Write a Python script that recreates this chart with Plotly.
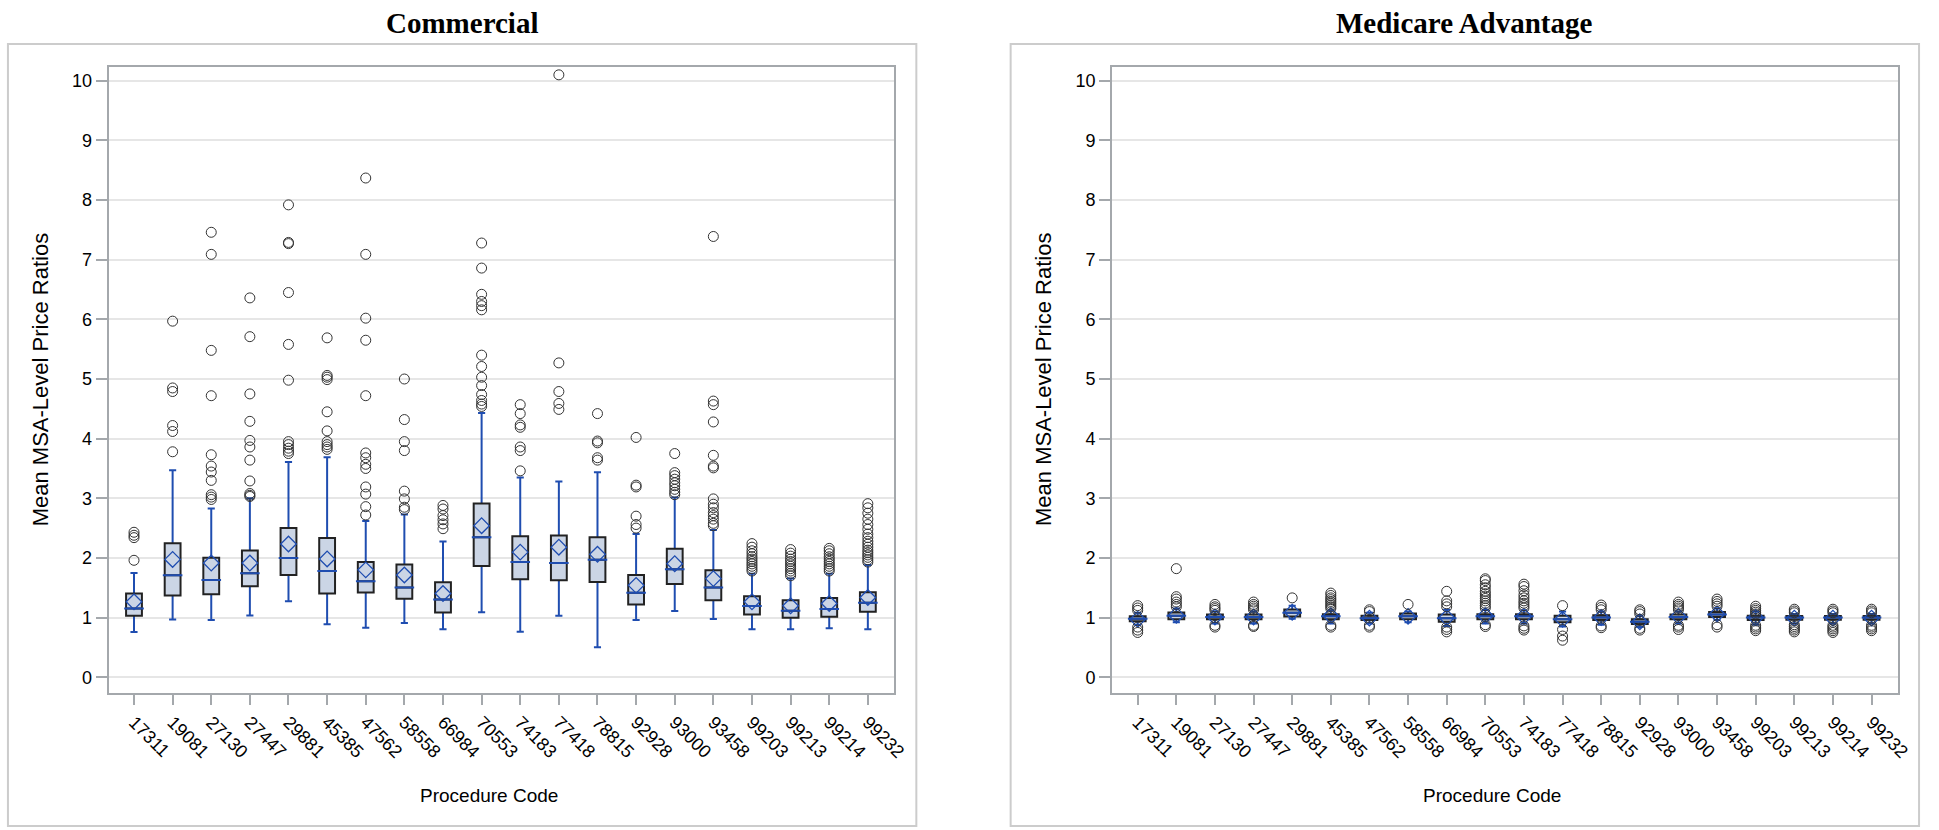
import plotly.graph_objects as go

# ---------------- data ----------------
codes = ["17311", "19081", "27130", "27447", "29881", "45385", "47562", "58558", "66984", "70553",
         "74183", "77418", "78815", "92928", "93000", "93458", "99203", "99213", "99214", "99232"]

# Commercial
com_q1 = [1.03, 1.37, 1.39, 1.525, 1.714, 1.403, 1.42, 1.314, 1.086, 1.864,
          1.642, 1.625, 1.597, 1.22, 1.564, 1.292, 1.053, 0.997, 1.014, 1.097]
com_med = [1.153, 1.708, 1.63, 1.742, 2.0, 1.78, 1.608, 1.503, 1.303, 2.347,
           1.93, 1.914, 1.97, 1.414, 1.81, 1.503, 1.192, 1.114, 1.142, 1.247]
com_q3 = [1.403, 2.247, 2.003, 2.125, 2.5, 2.333, 1.93, 1.89, 1.592, 2.914,
          2.364, 2.375, 2.347, 1.714, 2.153, 1.792, 1.358, 1.292, 1.33, 1.425]
com_lo = [0.758, 0.969, 0.958, 1.036, 1.275, 0.886, 0.83, 0.908, 0.803, 1.09,
          0.764, 1.03, 0.503, 0.958, 1.108, 0.975, 0.803, 0.803, 0.82, 0.803]
com_hi = [1.747, 3.47, 2.83, 3.0, 3.61, 3.69, 2.62, 2.73, 2.275, 4.43,
          3.35, 3.28, 3.436, 2.403, 3.014, 2.47, 1.736, 1.653, 1.736, 1.88]
com_mean = [1.264, 1.975, 1.914, 1.914, 2.233, 1.983, 1.80, 1.714, 1.403, 2.54,
            2.097, 2.18, 2.06, 1.54, 1.903, 1.653, 1.264, 1.197, 1.236, 1.336]
com_out = [
    [1.96, 2.34, 2.38, 2.43],
    [3.78, 4.12, 4.22, 4.79, 4.85, 5.97],
    [2.98, 3.02, 3.06, 3.30, 3.44, 3.54, 3.73, 4.72, 5.48, 7.09, 7.46],
    [3.03, 3.05, 3.08, 3.29, 3.64, 3.86, 3.97, 4.29, 4.75, 5.71, 6.36],
    [3.75, 3.79, 3.84, 3.90, 3.95, 4.98, 5.58, 6.45, 7.27, 7.29, 7.92],
    [3.82, 3.86, 3.90, 3.95, 4.13, 4.45, 4.99, 5.03, 5.06, 5.69],
    [2.72, 2.86, 3.07, 3.19, 3.50, 3.57, 3.68, 3.76, 4.72, 5.65, 6.02, 7.09, 8.37],
    [2.81, 2.85, 2.99, 3.12, 3.80, 3.95, 4.32, 5.00],
    [2.49, 2.57, 2.64, 2.71, 2.82, 2.88],
    [4.54, 4.58, 4.64, 4.74, 4.89, 5.03, 5.21, 5.40, 6.16, 6.23, 6.30, 6.42, 6.86, 7.28],
    [3.46, 3.80, 3.86, 4.19, 4.23, 4.42, 4.57],
    [4.49, 4.59, 4.79, 5.27, 10.10],
    [3.64, 3.68, 3.93, 3.96, 4.42],
    [2.50, 2.56, 2.70, 3.19, 3.22, 4.02],
    [3.06, 3.10, 3.15, 3.21, 3.26, 3.32, 3.38, 3.43, 3.75],
    [2.54, 2.58, 2.65, 2.71, 2.76, 2.84, 2.90, 2.99, 3.51, 3.54, 3.72, 4.28, 4.57, 4.63, 7.39],
    [1.78, 1.82, 1.86, 1.90, 1.94, 1.98, 2.02, 2.07, 2.12, 2.18, 2.24],
    [1.70, 1.74, 1.78, 1.82, 1.86, 1.90, 1.94, 1.98, 2.03, 2.08, 2.14],
    [1.78, 1.82, 1.86, 1.90, 1.94, 1.98, 2.02, 2.07, 2.12, 2.16],
    [1.93, 1.97, 2.01, 2.05, 2.09, 2.13, 2.18, 2.23, 2.28, 2.34, 2.40, 2.48, 2.56, 2.65, 2.75, 2.84, 2.91],
]

# Medicare Advantage
ma_q1 = [0.94, 0.97, 0.97, 0.97, 1.017, 0.97, 0.96, 0.97, 0.93, 0.97,
         0.97, 0.92, 0.96, 0.89, 0.97, 1.01, 0.96, 0.965, 0.965, 0.965]
ma_med = [0.98, 1.03, 1.01, 1.01, 1.08, 1.02, 0.99, 1.02, 0.99, 1.02,
          1.02, 0.97, 1.0, 0.93, 1.01, 1.05, 1.0, 1.0, 1.0, 1.0]
ma_q3 = [1.02, 1.084, 1.05, 1.05, 1.134, 1.056, 1.03, 1.067, 1.05, 1.056,
         1.056, 1.03, 1.04, 0.97, 1.05, 1.095, 1.03, 1.025, 1.025, 1.025]
ma_lo = [0.88, 0.92, 0.9, 0.9, 0.98, 0.9, 0.9, 0.92, 0.86, 0.9,
         0.9, 0.85, 0.88, 0.84, 0.9, 0.96, 0.88, 0.9, 0.9, 0.9]
ma_hi = [1.08, 1.15, 1.1, 1.1, 1.2, 1.12, 1.08, 1.1, 1.13, 1.13,
         1.12, 1.1, 1.1, 1.03, 1.1, 1.15, 1.1, 1.06, 1.06, 1.06]
ma_mean = [0.97, 1.04, 1.01, 1.01, 1.09, 1.03, 0.99, 1.02, 1.0, 1.03,
           1.02, 0.97, 1.0, 0.93, 1.02, 1.06, 1.0, 0.99, 0.99, 0.99]
ma_out = [
    [1.12, 1.16, 1.20, 0.84, 0.79, 0.75],
    [1.18, 1.22, 1.26, 1.31, 1.35, 1.82],
    [1.12, 1.15, 1.18, 1.22, 0.87, 0.84],
    [1.13, 1.16, 1.19, 1.22, 1.26, 0.87, 0.85],
    [1.33],
    [1.15, 1.18, 1.21, 1.24, 1.27, 1.30, 1.33, 1.37, 1.41, 0.87, 0.84],
    [1.10, 1.13, 0.87, 0.84],
    [1.22],
    [1.18, 1.23, 1.28, 1.44, 0.84, 0.80, 0.76],
    [1.16, 1.20, 1.24, 1.28, 1.32, 1.36, 1.40, 1.44, 1.50, 1.55, 1.62, 1.65, 0.88, 0.85],
    [1.16, 1.20, 1.24, 1.28, 1.33, 1.38, 1.45, 1.52, 1.56, 0.86, 0.82, 0.79],
    [1.20, 0.80, 0.69, 0.62],
    [1.13, 1.17, 1.21, 0.86, 0.83],
    [1.06, 1.10, 1.13, 0.82, 0.79],
    [1.13, 1.16, 1.19, 1.22, 1.26, 0.87, 0.84, 0.80],
    [1.19, 1.23, 1.27, 1.31, 0.88, 0.84],
    [1.06, 1.09, 1.12, 1.15, 1.19, 0.87, 0.84, 0.81, 0.78],
    [1.08, 1.11, 1.14, 0.88, 0.85, 0.82, 0.79, 0.76],
    [1.08, 1.11, 1.14, 0.87, 0.84, 0.81, 0.78, 0.75],
    [1.08, 1.11, 1.14, 0.87, 0.84, 0.81, 0.78],
]

y_ticks = [0, 1, 2, 3, 4, 5, 6, 7, 8, 9, 10]
panel_titles = ["Commercial", "Medicare Advantage"]
y_title = "Mean MSA-Level Price Ratios"
x_title = "Procedure Code"

# ---------------- style ----------------
W, H = 1939, 830
BLUE = "#1f4db0"
FILL = "#cbd5e5"
BOXLINE = "#222222"
FRAME = "#a4a8ac"
GRID = "#e6e6e6"
SANS = "Liberation Sans, Arial, sans-serif"
SERIF = "Liberation Serif, Times New Roman, serif"
BOXW = 0.41

fig = go.Figure()

panels = [
    dict(q1=com_q1, med=com_med, q3=com_q3, lo=com_lo, hi=com_hi, mean=com_mean, out=com_out,
         xa="x", ya="y", px0=109.3, border=(8, 923)),
    dict(q1=ma_q1, med=ma_med, q3=ma_q3, lo=ma_lo, hi=ma_hi, mean=ma_mean, out=ma_out,
         xa="x2", ya="y2", px0=1120.3, border=(1018, 1933)),
]
PLOT_W = 791.7
PLOT_TOP, PLOT_BOT = 66.5, 692.7

shapes = []
annotations = []
for i, p in enumerate(panels):
    # whiskers (drawn below the box)
    fig.add_trace(go.Box(
        x=codes, q1=p["med"], median=p["med"], q3=p["med"],
        lowerfence=p["lo"], upperfence=p["hi"],
        width=BOXW, whiskerwidth=0.45, boxpoints=False,
        line=dict(color=BLUE, width=2), fillcolor="rgba(0,0,0,0)",
        xaxis=p["xa"], yaxis=p["ya"], showlegend=False, hoverinfo="skip"))
    # box body
    fig.add_trace(go.Box(
        x=codes, q1=p["q1"], median=p["med"], q3=p["q3"],
        lowerfence=p["q1"], upperfence=p["q3"],
        width=BOXW, whiskerwidth=0, boxpoints=False,
        line=dict(color=BOXLINE, width=2), fillcolor=FILL,
        xaxis=p["xa"], yaxis=p["ya"], showlegend=False, hoverinfo="skip"))
    # median lines
    fig.add_trace(go.Scatter(
        x=codes, y=p["med"], mode="markers",
        marker=dict(symbol="line-ew", size=14, line=dict(color=BLUE, width=2)),
        xaxis=p["xa"], yaxis=p["ya"], showlegend=False, hoverinfo="skip"))
    # means
    fig.add_trace(go.Scatter(
        x=codes, y=p["mean"], mode="markers",
        marker=dict(symbol="diamond-open", size=12, color=BLUE, line=dict(width=1.3)),
        xaxis=p["xa"], yaxis=p["ya"], showlegend=False, hoverinfo="skip"))
    # outliers
    ox, oy = [], []
    for c, vals in zip(codes, p["out"]):
        for v in vals:
            ox.append(c)
            oy.append(v)
    fig.add_trace(go.Scatter(
        x=ox, y=oy, mode="markers",
        marker=dict(symbol="circle-open", size=10, color="#333333", line=dict(width=1)),
        xaxis=p["xa"], yaxis=p["ya"], showlegend=False, hoverinfo="skip"))

    # panel border
    bx0, bx1 = p["border"]
    shapes.append(dict(type="rect", xref="paper", yref="paper",
                       x0=bx0 / W, x1=bx1 / W, y0=1 - 826 / H, y1=1 - 44 / H,
                       line=dict(color="#cccccc", width=2), fillcolor="rgba(0,0,0,0)", layer="below"))
    # panel title
    annotations.append(dict(text="<b>%s</b>" % panel_titles[i], xref="paper", yref="paper",
                            x=(bx0 + bx1) / 2 / W, y=1 - 23 / H, xanchor="center", yanchor="middle",
                            showarrow=False, font=dict(family=SERIF, size=29, color="#000000")))
    # y title
    annotations.append(dict(text=y_title, xref="paper", yref="paper",
                            x=(bx0 + 33) / W, y=1 - (PLOT_TOP + PLOT_BOT) / 2 / H, textangle=-90,
                            xanchor="center", yanchor="middle", showarrow=False,
                            font=dict(family=SANS, size=22, color="#000000")))
    # x title
    annotations.append(dict(text=x_title, xref="paper", yref="paper",
                            x=(p["px0"] + PLOT_W / 2 - 13) / W, y=1 - 795 / H,
                            xanchor="center", yanchor="middle", showarrow=False,
                            font=dict(family=SANS, size=19, color="#000000")))

xaxis_common = dict(type="category", categoryorder="array", categoryarray=codes,
                    range=[-0.66, 19.69], showline=True, mirror=True, linecolor=FRAME, linewidth=2,
                    ticks="outside", ticklen=10, tickwidth=1.5, tickcolor=FRAME, tickangle=45,
                    showgrid=False, zeroline=False,
                    tickfont=dict(family=SANS, size=18, color="#000000"))
yaxis_common = dict(range=[-0.26, 10.24], tickvals=y_ticks, showline=True, mirror=True,
                    linecolor=FRAME, linewidth=2, ticks="outside", ticklen=11, tickwidth=1.5,
                    tickcolor=FRAME, showgrid=True, gridcolor=GRID, gridwidth=1.5, zeroline=False,
                    tickfont=dict(family=SANS, size=18, color="#000000"))

ydom = [1 - PLOT_BOT / H, 1 - PLOT_TOP / H]
fig.update_layout(
    width=W, height=H, margin=dict(l=0, r=0, t=0, b=0),
    paper_bgcolor="white", plot_bgcolor="white", boxmode="overlay",
    xaxis=dict(domain=[panels[0]["px0"] / W, (panels[0]["px0"] + PLOT_W) / W], anchor="y", **xaxis_common),
    yaxis=dict(domain=ydom, anchor="x", **yaxis_common),
    xaxis2=dict(domain=[panels[1]["px0"] / W, (panels[1]["px0"] + PLOT_W) / W], anchor="y2", **xaxis_common),
    yaxis2=dict(domain=ydom, anchor="x2", **yaxis_common),
    shapes=shapes, annotations=annotations,
)

fig.write_html("out.html", config={"displayModeBar": False},
               post_script="document.body.style.margin='0';document.body.style.overflow='hidden';")
